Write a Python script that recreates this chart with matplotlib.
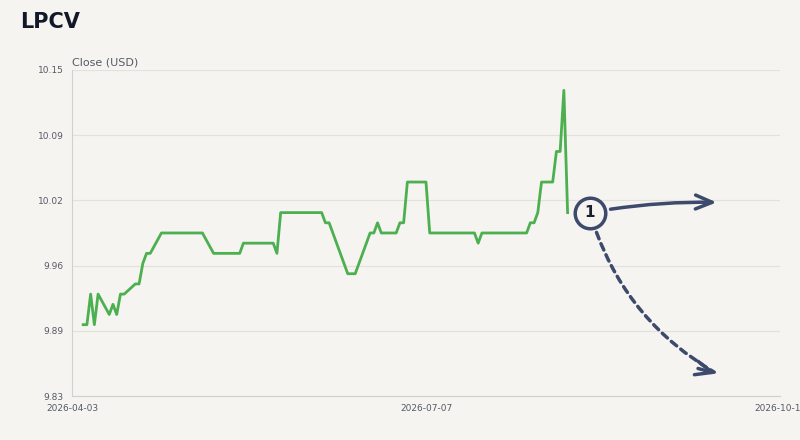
import matplotlib.pyplot as plt
import matplotlib.dates as mdates
import numpy as np
import pandas as pd

start = pd.Timestamp("2026-04-03")
day_offsets = [3, 4, 5, 6, 7, 10, 11, 12, 13, 14, 17, 18, 19, 20, 21, 24, 35, 38, 45, 46,
               54, 55, 56, 67, 68, 69, 74, 76, 80, 81, 82, 83, 87, 88, 89, 90, 95, 96,
               108, 109, 110, 122, 123, 124, 125, 126, 129, 130, 131, 132, 133]
closes = [9.90, 9.90, 9.93, 9.90, 9.93, 9.91, 9.92, 9.91, 9.93, 9.93, 9.94, 9.94, 9.96,
          9.97, 9.97, 9.99, 9.99, 9.97, 9.97, 9.98, 9.98, 9.97, 10.01, 10.01, 10.00,
          10.00, 9.95, 9.95, 9.99, 9.99, 10.00, 9.99, 9.99, 10.00, 10.00, 10.04, 10.04,
          9.99, 9.99, 9.98, 9.99, 9.99, 10.00, 10.00, 10.01, 10.04, 10.04, 10.07, 10.07,
          10.13, 10.01]
dates = [start + pd.Timedelta(days=d) for d in day_offsets]

marker_date, marker_val = start + pd.Timedelta(days=139), 10.01
up_date, up_val = start + pd.Timedelta(days=173), 10.020
down_date, down_val = start + pd.Timedelta(days=173), 9.852

bg = "#f5f4f0"
navy = "#3d4a6b"
fig = plt.figure(figsize=(8, 4.4), dpi=100, facecolor=bg)
ax = fig.add_axes([0.09, 0.1, 0.885, 0.741], facecolor=bg)

ax.plot(dates, closes, color="#4caf50", lw=2)

ax.set_xlim(start, pd.Timestamp("2026-10-10"))
ax.set_ylim(9.83, 10.15)
yt = np.linspace(9.83, 10.15, 6)
ax.set_yticks(yt)
ax.set_yticklabels([f"{v:.2f}" for v in yt])
ax.set_xticks([start, pd.Timestamp("2026-07-07"), pd.Timestamp("2026-10-10")])
ax.xaxis.set_major_formatter(mdates.DateFormatter("%Y-%m-%d"))
ax.tick_params(labelsize=6.5, colors="#555a66", length=0, pad=6)
ax.grid(axis="y", color="#e2e1dc", lw=0.8)
for s in ["top", "right"]:
    ax.spines[s].set_visible(False)
ax.spines["left"].set_color("#d0d0d0")
ax.spines["bottom"].set_color("#d0d0d0")

ax.annotate("", xy=(up_date, up_val), xytext=(marker_date, marker_val),
            arrowprops=dict(arrowstyle="->,head_length=1.2,head_width=0.5", color=navy, lw=2.5,
                            connectionstyle="arc3,rad=-0.05", shrinkA=15, shrinkB=0))
ax.annotate("", xy=(down_date, down_val), xytext=(marker_date, marker_val),
            arrowprops=dict(arrowstyle="-", color=navy, lw=2.5,
                            ls=(0, (2, 1.5)), connectionstyle="arc3,rad=0.2",
                            shrinkA=15, shrinkB=2))
ax.annotate("", xy=(down_date, down_val), xytext=(start + pd.Timedelta(days=168), 9.857),
            arrowprops=dict(arrowstyle="->,head_length=1.2,head_width=0.5", color=navy,
                            lw=2.5, shrinkA=0, shrinkB=0))
ax.plot([marker_date], [marker_val], "o", ms=22, mfc="#f5f4f0", mec=navy, mew=2.5, zorder=5)
ax.text(marker_date, marker_val, "1", ha="center", va="center", fontsize=11,
        fontweight="bold", color="#1a1f2e", zorder=6)

fig.text(0.025, 0.95, "LPCV", fontsize=15, fontweight="bold", color="#111827", va="center")
fig.text(0.09, 0.858, "Close (USD)", fontsize=8, color="#555a66", va="center")

fig.savefig("out.png", facecolor=bg)
